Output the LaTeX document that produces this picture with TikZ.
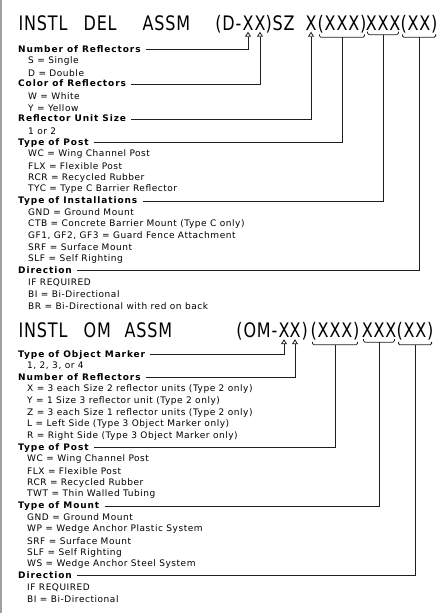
\documentclass[tikz,border=0pt]{standalone}
\usepackage{fontspec}
\setmainfont{DejaVu Sans}
\newfontfamily\ttlfont[FakeStretch=0.8, LetterSpace=4]{DejaVu Sans}
\newfontfamily\itmfont[LetterSpace=6]{DejaVu Sans}
\newfontfamily\lblfont[LetterSpace=10]{DejaVu Sans}
\usetikzlibrary{arrows.meta}
\definecolor{LineGray}{RGB}{30,30,30}
\definecolor{EdgeGray}{RGB}{160,160,160}

\begin{document}
\begin{tikzpicture}[x=1pt, y=-1pt,
	ttl/.style={font=\ttlfont\fontsize{20}{24}\selectfont, inner sep=1.5pt},
	lbl/.style={font=\lblfont\bfseries\fontsize{9}{10}\selectfont, anchor=west, inner sep=0pt,
		text height=7pt, text depth=2pt},
	itm/.style={font=\itmfont\fontsize{9}{10}\selectfont, anchor=west, inner sep=0pt},
	con/.style={LineGray, line width=0.8pt},
	up/.style={con, shorten <=5pt, -{Triangle[open, width=6pt, length=5pt]}},
	brk/.style={con, rounded corners=1.5pt}]

	\useasboundingbox (0,0) rectangle (445,613);
	\draw[EdgeGray, line width=1.5pt] (0.75,0) -- (0.75,613);

	% ---------- INSTL DEL ASSM ----------
	\node[ttl, anchor=base west] (dT1) at (17,30) {INSTL};
	\node[ttl, anchor=base west] (dT2) at (82,30) {DEL};
	\node[ttl, anchor=base west] (dT3) at (141,30) {ASSM};
	\node[ttl, anchor=base east] (dT4) at (243,30) {(D-};
	\node[ttl, anchor=base] (dXa) at (248,30) {X};
	\node[ttl, anchor=base] (dXb) at (260,30) {X};
	\node[ttl, anchor=base west] (dT5) at (264,30) {)SZ};
	\node[ttl, anchor=base] (dXs) at (311,30) {X};
	\node[ttl, anchor=base] (dGa) at (342,30) {(XXX)};
	\node[ttl, anchor=base] (dGb) at (383,30) {XXX};
	\node[ttl, anchor=base] (dGc) at (419,30) {(XX)};

	\node[lbl] (dNum) at (18,49.5) {Number of Reflectors};
	\node[lbl] (dCol) at (18,84.45) {Color of Reflectors};
	\node[lbl] (dSize) at (18,119.4) {Reflector Unit Size};
	\node[lbl] (dPost) at (18,142.7) {Type of Post};
	\node[lbl] (dInst) at (18,200.95) {Type of Installations};
	\node[lbl] (dDir) at (18,270.85) {Direction};
	\foreach \r/\t in {2/S = Single, 3/D = Double, 5/W = White, 6/Y = Yellow, 8/1 or 2,
		10/WC = Wing Channel Post, 11/FLX = Flexible Post, 12/RCR = Recycled Rubber,
		13/TYC = Type C Barrier Reflector, 15/GND = Ground Mount,
		16/CTB = Concrete Barrier Mount (Type C only),
		17/{GF1, GF2, GF3 = Guard Fence Attachment}, 18/SRF = Surface Mount,
		19/SLF = Self Righting, 21/IF REQUIRED, 22/BI = Bi-Directional,
		23/BR = Bi-Directional with red on back}{
		\node[itm] (dI\r) at (28,{49.5+(\r-1)*11.65}) {\t};
	}

	\foreach \g in {dGa,dGb,dGc}{
		\draw[brk] ([xshift=3.5pt]\g.south west) -- ([xshift=3.5pt,yshift=-3pt]\g.south west)
			-- ([xshift=-3.5pt,yshift=-3pt]\g.south east) -- ([xshift=-3.5pt]\g.south east);
	}
	\draw[up] (dNum.east) -| (dXa.south);
	\draw[up] (dCol.east) -| (dXb.south);
	\draw[up] (dSize.east) -| (dXs.south);
	\draw[con, shorten <=5pt] (dPost.east) -| ([yshift=-3pt]dGa.south);
	\draw[con, shorten <=5pt] (dInst.east) -| ([yshift=-3pt]dGb.south);
	\draw[con, shorten <=5pt] (dDir.east) -| ([yshift=-3pt]dGc.south);

	% ---------- INSTL OM ASSM ----------
	\node[ttl, anchor=base west] (oT1) at (17,337.5) {INSTL};
	\node[ttl, anchor=base west] (oT2) at (82,337.5) {OM};
	\node[ttl, anchor=base west] (oT3) at (123,337.5) {ASSM};
	\node[ttl, anchor=base east] (oT4) at (279,337.5) {(OM-};
	\node[ttl, anchor=base] (oXa) at (284,337.5) {X};
	\node[ttl, anchor=base] (oXb) at (295,337.5) {X};
	\node[ttl, anchor=base west] (oT5) at (300,337.5) {)};
	\node[ttl, anchor=base] (oGa) at (335,337.5) {(XXX)};
	\node[ttl, anchor=base] (oGb) at (379,337.5) {XXX};
	\node[ttl, anchor=base] (oGc) at (415,337.5) {(XX)};

	\node[lbl] (oType) at (18,354.5) {Type of Object Marker};
	\node[lbl] (oNum) at (18,377.8) {Number of Reflectors};
	\node[lbl] (oPost) at (18,447.7) {Type of Post};
	\node[lbl] (oMnt) at (18,505.95) {Type of Mount};
	\node[lbl] (oDir) at (18,575.85) {Direction};
	\foreach \r/\t in {2/{1, 2, 3, or 4},
		4/X = 3 each Size 2 reflector units (Type 2 only),
		5/Y = 1 Size 3 reflector unit (Type 2 only),
		6/Z = 3 each Size 1 reflector units (Type 2 only),
		7/L = Left Side (Type 3 Object Marker only),
		8/R = Right Side (Type 3 Object Marker only),
		10/WC = Wing Channel Post, 11/FLX = Flexible Post, 12/RCR = Recycled Rubber,
		13/TWT = Thin Walled Tubing, 15/GND = Ground Mount,
		16/WP = Wedge Anchor Plastic System, 17/SRF = Surface Mount,
		18/SLF = Self Righting, 19/WS = Wedge Anchor Steel System,
		21/IF REQUIRED, 22/BI = Bi-Directional}{
		\node[itm] (oI\r) at (27,{354.5+(\r-1)*11.65}) {\t};
	}

	\foreach \g in {oGa,oGb,oGc}{
		\draw[brk] ([xshift=3.5pt]\g.south west) -- ([xshift=3.5pt,yshift=-3pt]\g.south west)
			-- ([xshift=-3.5pt,yshift=-3pt]\g.south east) -- ([xshift=-3.5pt]\g.south east);
	}
	\draw[up] (oType.east) -| (oXa.south);
	\draw[up] (oNum.east) -| (oXb.south);
	\draw[con, shorten <=5pt] (oPost.east) -| ([yshift=-3pt]oGa.south);
	\draw[con, shorten <=5pt] (oMnt.east) -| ([yshift=-3pt]oGb.south);
	\draw[con, shorten <=5pt] (oDir.east) -| ([yshift=-3pt]oGc.south);
\end{tikzpicture}
\end{document}
